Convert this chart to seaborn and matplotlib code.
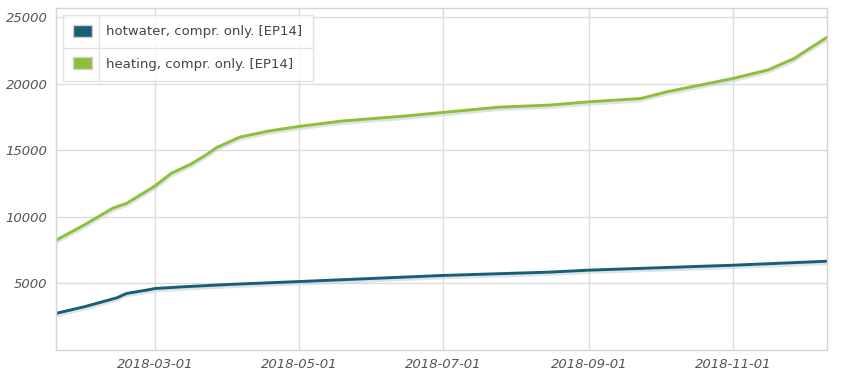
import numpy as np
import pandas as pd
import matplotlib
matplotlib.use("Agg")
import matplotlib.pyplot as plt
import matplotlib.dates as mdates
import matplotlib.patheffects as pe
from matplotlib.lines import Line2D
import seaborn as sns

# values
heating_dates = ["2018-01-18", "2018-01-30", "2018-02-11", "2018-02-17", "2018-03-01",
                 "2018-03-08", "2018-03-16", "2018-03-23", "2018-03-27", "2018-04-06",
                 "2018-04-18", "2018-05-01", "2018-05-19", "2018-06-02", "2018-06-13",
                 "2018-07-01", "2018-07-13", "2018-07-25", "2018-08-15", "2018-09-01",
                 "2018-09-23", "2018-10-04", "2018-10-18", "2018-11-01", "2018-11-16",
                 "2018-11-27", "2018-11-30", "2018-12-11"]
heating = [8250, 9400, 10650, 11030, 12330,
           13290, 13950, 14700, 15200, 16000,
           16450, 16800, 17200, 17400, 17550,
           17850, 18050, 18250, 18400, 18650,
           18900, 19400, 19900, 20400, 21050,
           21900, 22250, 23500]

hotwater_dates = ["2018-01-18", "2018-01-30", "2018-02-13", "2018-02-15", "2018-02-17",
                  "2018-02-27", "2018-03-01", "2018-03-13", "2018-04-02", "2018-05-02",
                  "2018-07-01", "2018-08-15", "2018-09-01", "2018-11-01", "2018-12-11"]
hotwater = [2750, 3250, 3930, 4100, 4250,
            4550, 4620, 4750, 4930, 5150,
            5600, 5850, 6000, 6370, 6670]

label_hw = "hotwater, compr. only. [EP14]"
label_ht = "heating, compr. only. [EP14]"
blue = "#195e79"
green = "#8fbf38"

df = pd.concat([
    pd.DataFrame({"date": pd.to_datetime(hotwater_dates), "value": hotwater, "series": label_hw}),
    pd.DataFrame({"date": pd.to_datetime(heating_dates), "value": heating, "series": label_ht}),
])

sns.set_style("white")
plt.rcParams['font.family'] = ['DejaVu Sans']

fig = plt.figure(figsize=(8.5, 3.75), dpi=100)
ax = fig.add_axes([0.0659, 0.0667, 0.9071, 0.912])

sns.lineplot(data=df, x="date", y="value", hue="series",
             palette={label_hw: blue, label_ht: green},
             linewidth=2.1, ax=ax, legend=False,
             path_effects=[pe.SimpleLineShadow(offset=(0, -1.2), shadow_color="#c4d4da", alpha=0.6, linewidth=3.2),
                           pe.Normal()])

ax.set_xlim(pd.Timestamp("2018-01-18"), pd.Timestamp("2018-12-11"))
ax.set_ylim(0, 25700)
ax.set_yticks([5000, 10000, 15000, 20000, 25000])
ax.xaxis.set_major_locator(mdates.MonthLocator(bymonth=[3, 5, 7, 9, 11]))
ax.xaxis.set_major_formatter(mdates.DateFormatter("%Y-%m-%d"))
ax.set_xlabel("")
ax.set_ylabel("")
ax.grid(True, color="#dcdcdc", linewidth=1)
for s in ax.spines.values():
    s.set_color("#d4d4d4")
    s.set_linewidth(1)
ax.tick_params(length=0, labelsize=9.5, colors="#555555", pad=6)
for t in ax.get_xticklabels() + ax.get_yticklabels():
    t.set_style("italic")

# legend: square swatches, boxed, with row/column separators
handles = [plt.Rectangle((0, 0), 1, 1, facecolor=blue, edgecolor="#cfcfcf"),
           plt.Rectangle((0, 0), 1, 1, facecolor=green, edgecolor="#cfcfcf")]
leg = ax.legend(handles, [label_hw, label_ht], loc="upper left",
                bbox_to_anchor=(0.009, 0.98), borderaxespad=0, frameon=True, fancybox=False,
                fontsize=9.5, handlelength=1.45, handleheight=1.0,
                labelspacing=1.45, borderpad=0.75, handletextpad=1.1)
leg.get_frame().set_edgecolor("#dddddd")
leg.get_frame().set_linewidth(1)
for t in leg.get_texts():
    t.set_color("#444444")

fig.canvas.draw()
bb = leg.get_frame().get_window_extent().transformed(fig.transFigure.inverted())
W, H = fig.bbox.width, fig.bbox.height
xsep = bb.x0 + 36 / W
ymid = (bb.y0 + bb.y1) / 2
fig.add_artist(Line2D([xsep, xsep], [bb.y0, bb.y1], transform=fig.transFigure, color="#e2e2e2", lw=1))
fig.add_artist(Line2D([bb.x0, bb.x1], [ymid, ymid], transform=fig.transFigure, color="#e2e2e2", lw=1))

fig.savefig("out.png", dpi=100)
